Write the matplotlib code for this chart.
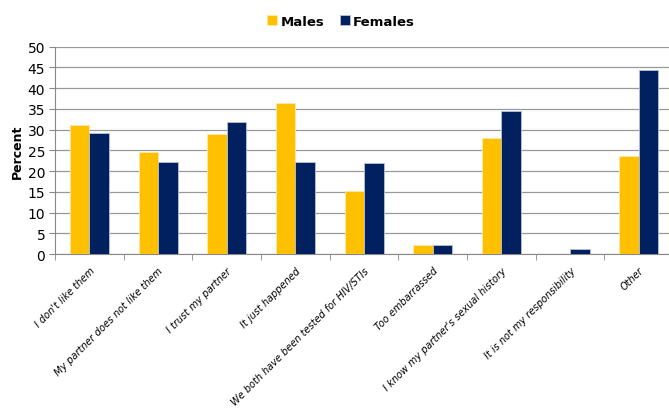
import matplotlib

matplotlib.use("Agg")
import matplotlib.pyplot as plt
import numpy as np

reasons = [
    "I don't like them",
    "My partner does not like them",
    "I trust my partner",
    "It just happened",
    "We both have been tested for HIV/STIs",
    "Too embarrassed",
    "I know my partner's sexual history",
    "It is not my responsibility",
    "Other",
]
males = [31.2, 24.7, 29.0, 36.5, 15.1, 2.2, 28.1, 0.0, 23.7]
females = [29.2, 22.3, 31.8, 22.3, 21.9, 2.1, 34.4, 1.1, 44.3]
y_ticks = list(range(0, 55, 5))

plt.rcParams["font.family"] = ["DejaVu Sans"]

fig = plt.figure(figsize=(6.69, 4.10), dpi=100)
# axes runs slightly past the right edge of the canvas
ax = fig.add_axes([0.0822, 0.378, 0.924, 0.5056])

x = np.arange(len(reasons))
width = 0.284
ax.bar(x - width / 2, males, width, color="#FFC000", edgecolor="#FFE9A8",
       linewidth=0.6, label="Males", zorder=3)
ax.bar(x + width / 2, females, width, color="#002060", edgecolor="#B8C2D6",
       linewidth=0.6, label="Females", zorder=3)

ax.set_xlim(-0.5, len(reasons) - 0.5)
ax.set_ylim(0, 50)
ax.set_yticks(y_ticks)
ax.tick_params(axis="y", labelsize=10, length=4, color="#888888", pad=3)
ax.yaxis.grid(True, color="#999999", linewidth=0.9, zorder=0)

ax.set_xticks(x)
ax.set_xticklabels(reasons, rotation=45, ha="right", va="top",
                   rotation_mode="anchor", fontsize=7.0, style="italic")
ax.tick_params(axis="x", length=0, pad=8)
# category separator ticks below the axis
ax.set_xticks(np.arange(-0.5, len(reasons), 1), minor=True)
ax.tick_params(axis="x", which="minor", length=4, color="#888888")

for side in ("top", "right"):
    ax.spines[side].set_visible(False)
ax.spines["left"].set_color("#888888")
ax.spines["bottom"].set_color("#888888")

ax.set_ylabel("Percent", fontsize=9, fontweight="bold", labelpad=3)

fig.legend(loc="center", bbox_to_anchor=(0.51, 0.946), ncol=2,
           frameon=False, handlelength=0.75, handleheight=0.75,
           handletextpad=0.25, columnspacing=1.2,
           prop={"weight": "bold", "size": 9.5})

fig.savefig("out.png", dpi=100)
